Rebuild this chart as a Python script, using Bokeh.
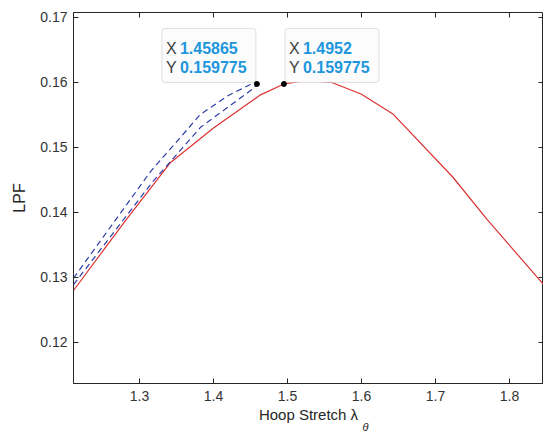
import math
from bokeh.plotting import figure
from bokeh.models import Range1d, FixedTicker, Label, BoxAnnotation, Title
from bokeh.embed import file_html
from bokeh.resources import INLINE

# ---- data ----
red_x = [1.2108, 1.28, 1.342, 1.40, 1.4635, 1.4952, 1.525, 1.56, 1.60, 1.643, 1.723, 1.77, 1.866]
red_y = [0.1280, 0.1386, 0.1477, 0.1530, 0.1581, 0.159775, 0.1603, 0.1600, 0.1582, 0.1551, 0.1455, 0.1389, 0.1263]

blue_upper_x = [1.2108, 1.3149, 1.3824, 1.42, 1.45, 1.45865]
blue_upper_y = [0.1299, 0.1463, 0.1551, 0.1580, 0.1597, 0.159775]

blue_lower_x = [1.2108, 1.3176, 1.3824, 1.4541, 1.45865]
blue_lower_y = [0.1289, 0.1447, 0.1531, 0.1591, 0.159775]

tip_x = [1.45865, 1.4952]
tip_y = [0.159775, 0.159775]

x_ticks = [1.3, 1.4, 1.5, 1.6, 1.7, 1.8]
y_ticks = [0.12, 0.13, 0.14, 0.15, 0.16, 0.17]

x_label = "Hoop Stretch \u03bb"
x_label_sub = "\u03b8"
y_label = "LPF"

# ---- layout ----
X0, X1 = 1.2108, 1.846
Y0, Y1 = 0.113692, 0.170769
FW, FH = 470, 371
FONT = "Liberation Sans"
AX = "#262626"

p = figure(frame_width=FW, frame_height=FH,
           x_range=Range1d(X0, X1), y_range=Range1d(Y0, Y1),
           output_backend="svg", toolbar_location=None,
           min_border_left=73, min_border_top=12, min_border_right=0, min_border_bottom=49)
p.xgrid.visible = False
p.ygrid.visible = False
p.outline_line_color = AX
p.background_fill_color = "white"
p.border_fill_color = "white"

p.xaxis.ticker = FixedTicker(ticks=x_ticks)
p.yaxis.ticker = FixedTicker(ticks=y_ticks)

for ax in [p.xaxis[0], p.yaxis[0]]:
    ax.axis_line_color = AX
    ax.major_tick_line_color = AX
    ax.major_tick_in = 5
    ax.major_tick_out = 0
    ax.minor_tick_line_color = None
    ax.major_label_text_font = FONT
    ax.major_label_text_font_size = "14px"
    ax.major_label_text_color = "#333333"
    ax.axis_label_text_font = FONT
    ax.axis_label_text_font_size = "15px"
    ax.axis_label_text_font_style = "normal"
    ax.axis_label_text_color = AX

bx = p.xaxis[0]
bx.major_label_standoff = 7
bx.axis_label = x_label
bx.axis_label_standoff = 2

ly = p.yaxis[0]
ly.major_label_standoff = 6
ly.axis_label = y_label
ly.axis_label_text_font_size = "16px"
ly.axis_label_standoff = 9

# subscript theta of the x label, pulled up right under the axis label
p.add_layout(Title(text=x_label_sub, align="left", offset=289, standoff=-15,
                   text_font=FONT, text_font_size="11px", text_font_style="italic",
                   text_color=AX), "below")

# inward ticks on the top and right edges of the box
p.ray(x=x_ticks, y=[Y1] * len(x_ticks), length=5, length_units="screen",
      angle=-math.pi / 2, line_color=AX, line_width=1)
p.ray(x=[X1] * len(y_ticks), y=y_ticks, length=5, length_units="screen",
      angle=math.pi, line_color=AX, line_width=1)

# ---- curves ----
p.line(red_x, red_y, line_color="#dc3232", line_width=1.2)
p.line(blue_upper_x, blue_upper_y, line_color="#2d3ca8", line_width=1.2, line_dash="6 4")
p.line(blue_lower_x, blue_lower_y, line_color="#2d3ca8", line_width=1.2, line_dash="6 4")

# ---- data tips ----
pxx = FW / (X1 - X0)
pxy = FH / (Y1 - Y0)
BW, BH = 94, 54
sides = ["left", "right"]
for i in range(len(tip_x)):
    if sides[i] == "left":
        right = tip_x[i] - 1 / pxx
        left = right - BW / pxx
    else:
        left = tip_x[i] + 1 / pxx
        right = left + BW / pxx
    bottom = tip_y[i] + 1.5 / pxy
    top = bottom + BH / pxy
    p.add_layout(BoxAnnotation(left=left, right=right, bottom=bottom, top=top,
                               fill_color="#fcfcfc", fill_alpha=1.0,
                               line_color="#9a9a9a", line_width=1, border_radius=3))
    for name, val, yo in [("X", f"{tip_x[i]:g}", 34), ("Y", f"{tip_y[i]:g}", 15)]:
        p.add_layout(Label(x=left, y=bottom, x_offset=4, y_offset=yo, text=name,
                           text_font=FONT, text_font_size="16px", text_color="#404040",
                           text_baseline="middle", text_align="left"))
        p.add_layout(Label(x=left, y=bottom, x_offset=18, y_offset=yo, text=val,
                           text_font=FONT, text_font_size="16px", text_font_style="bold",
                           text_color="#1e96dc", text_baseline="middle", text_align="left"))

p.scatter(tip_x, tip_y, size=5, color="black", level="overlay")

open("out.html", "w").write(file_html(p, INLINE))
